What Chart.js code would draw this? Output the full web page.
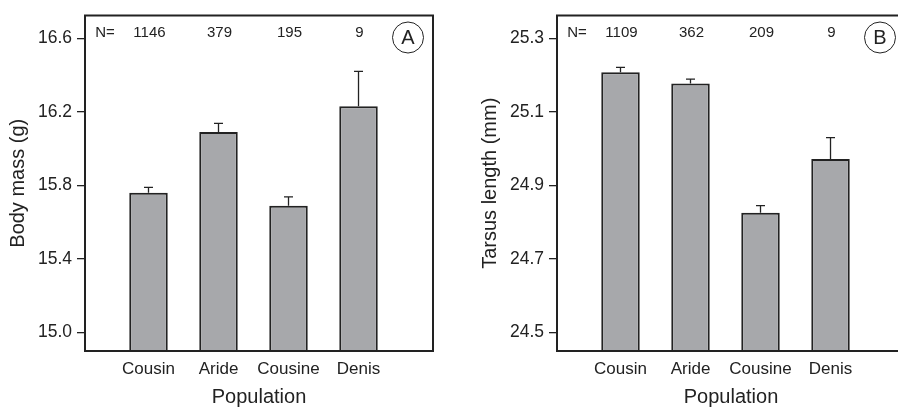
<!DOCTYPE html>
<html>
<head>
<meta charset="utf-8">
<script src="https://cdn.jsdelivr.net/npm/chart.js@4/dist/chart.umd.min.js"></script>
<style>
  html, body { margin: 0; padding: 0; background: #fff; }
  body { width: 898px; height: 409px; overflow: hidden; position: relative; }
  canvas { position: absolute; top: 0; }
  #massChart { left: 0; }
  #tarsusChart { left: 472px; }
</style>
</head>
<body>
<canvas id="massChart" width="472" height="409"></canvas>
<canvas id="tarsusChart" width="472" height="409"></canvas>
<script>
const populations = ['Cousin', 'Aride', 'Cousine', 'Denis']

// body mass (g): means, standard errors, sample sizes
const massMeans = [15.76, 16.09, 15.69, 16.23]
const massSE = [0.03, 0.047, 0.048, 0.19]
const massN = [1146, 379, 195, 9]
const massTicks = [15.0, 15.4, 15.8, 16.2, 16.6]

// tarsus length (mm)
const tarsusMeans = [25.208, 25.177, 24.826, 24.972]
const tarsusSE = [0.013, 0.012, 0.019, 0.058]
const tarsusN = [1109, 362, 209, 9]
const tarsusTicks = [24.5, 24.7, 24.9, 25.1, 25.3]

const INK = '#222222'
const FONT = "'Liberation Sans', Arial, sans-serif"

// frame, error bars, N= row and panel letter
const panelDecor = {
  id: 'panelDecor',
  afterDatasetsDraw(chart, args, opts) {
    const ctx = chart.ctx
    const area = chart.chartArea
    const yScale = chart.scales.y
    const xScale = chart.scales.x
    const bars = chart.getDatasetMeta(0).data

    ctx.save()
    ctx.strokeStyle = INK
    ctx.lineWidth = 1.3
    bars.forEach((bar, i) => {
      const yTop = yScale.getPixelForValue(opts.means[i] + opts.se[i])
      ctx.beginPath()
      ctx.moveTo(bar.x, bar.y)
      ctx.lineTo(bar.x, yTop)
      ctx.moveTo(bar.x - 4.5, yTop)
      ctx.lineTo(bar.x + 4.5, yTop)
      ctx.stroke()
    })

    ctx.lineWidth = 2
    ctx.strokeRect(area.left, area.top, area.right - area.left, area.bottom - area.top)

    ctx.fillStyle = INK
    ctx.font = '15px ' + FONT
    ctx.textAlign = 'center'
    ctx.textBaseline = 'middle'
    ctx.fillText('N=', area.left + 20, area.top + 17)
    opts.counts.forEach((n, i) => {
      ctx.fillText(String(n), xScale.getPixelForValue(i + 1) + 1, area.top + 17)
    })

    const cx = area.right - 25
    const cy = area.top + 22
    ctx.lineWidth = 1
    ctx.beginPath()
    ctx.arc(cx, cy, 15.5, 0, Math.PI * 2)
    ctx.stroke()
    ctx.font = '20px ' + FONT
    ctx.fillText(opts.letter, cx, cy + 1)
    ctx.restore()
  }
}

function makePanel(canvasId, means, se, counts, yTicks, yTitle, letter) {
  const step = yTicks[1] - yTicks[0]
  const ctx = document.getElementById(canvasId).getContext('2d')
  return new Chart(ctx, {
    type: 'bar',
    data: {
      datasets: [{
        data: means.map((v, i) => ({ x: i + 1, y: v })),
        backgroundColor: '#a7a8ab',
        borderColor: INK,
        borderWidth: 2,
        borderSkipped: false,
        categoryPercentage: 1,
        barPercentage: 0.55,
      }],
    },
    options: {
      responsive: false,
      animation: false,
      layout: { padding: { top: 11, right: 39, left: 0, bottom: 0 } },
      plugins: {
        legend: { display: false },
        tooltip: { enabled: false },
        panelDecor: { means: means, se: se, counts: counts, letter: letter },
      },
      scales: {
        x: {
          type: 'linear',
          offset: false,
          min: 0.093,
          max: 5.064,
          afterBuildTicks: (scale) => { scale.ticks = populations.map((p, i) => ({ value: i + 1 })) },
          afterFit: (scale) => { scale.height = 58 },
          grid: { display: false, drawTicks: false },
          border: { display: false },
          ticks: {
            padding: 8,
            color: INK,
            font: { family: FONT, size: 17 },
            callback: (v) => populations[v - 1],
          },
          title: {
            display: true,
            text: 'Population',
            color: INK,
            font: { family: FONT, size: 20 },
            padding: { top: 0, bottom: 0 },
          },
        },
        y: {
          min: yTicks[0] - step / 4,
          max: yTicks[yTicks.length - 1] + step * 0.31,
          afterBuildTicks: (scale) => { scale.ticks = yTicks.map((v) => ({ value: v })) },
          afterFit: (scale) => { scale.width = 85 },
          grid: { drawOnChartArea: false, drawTicks: true, tickLength: 8, color: INK, lineWidth: 1.3 },
          border: { display: false },
          ticks: {
            padding: 5,
            color: INK,
            font: { family: FONT, size: 17.5 },
            callback: (v) => v.toFixed(1),
          },
          title: {
            display: true,
            text: yTitle,
            color: INK,
            font: { family: FONT, size: 20 },
            padding: { top: 6, bottom: 0 },
          },
        },
      },
    },
    plugins: [panelDecor],
  })
}

makePanel('massChart', massMeans, massSE, massN, massTicks, 'Body mass (g)', 'A')
makePanel('tarsusChart', tarsusMeans, tarsusSE, tarsusN, tarsusTicks, 'Tarsus length (mm)', 'B')
</script>
</body>
</html>
